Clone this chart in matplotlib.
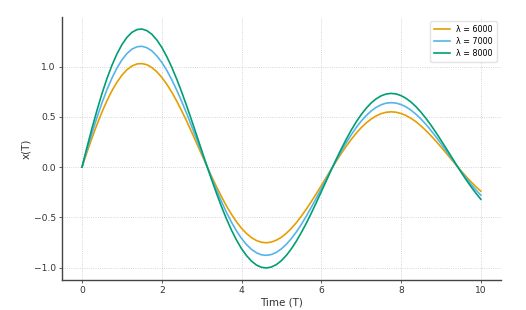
import numpy as np
import matplotlib
matplotlib.use('Agg')
import matplotlib.pyplot as plt

# values, T from 0 to 10 in steps of 0.125
t = np.linspace(0, 10, 81)
x_6000 = [0, .148, .290, .423, .547, .660, .759, .844, .914, .968,
          1.005, 1.026, 1.030, 1.019, .991, .949, .893, .825, .746, .657,
          .559, .456, .348, .237, .125, .015, -.094, -.198, -.297, -.388,
          -.471, -.545, -.609, -.661, -.702, -.731, -.748, -.753, -.746, -.727,
          -.698, -.658, -.610, -.553, -.488, -.418, -.343, -.265, -.184, -.102,
          -.021, .058, .135, .207, .275, .337, .392, .439, .478, .509,
          .532, .545, .550, .546, .533, .513, .485, .451, .410, .363,
          .312, .258, .201, .142, .083, .023, -.035, -.091, -.145, -.195,
          -.240]
x_7000 = [0, .172, .338, .494, .638, .770, .885, .984, 1.066, 1.129,
          1.173, 1.197, 1.202, 1.188, 1.157, 1.107, 1.042, .963, .870, .766,
          .653, .532, .406, .277, .146, .017, -.109, -.231, -.346, -.453,
          -.550, -.636, -.710, -.771, -.819, -.853, -.873, -.878, -.870, -.848,
          -.814, -.768, -.711, -.645, -.570, -.488, -.400, -.309, -.215, -.120,
          -.025, .068, .157, .242, .321, .393, .457, .512, .558, .594,
          .620, .636, .641, .637, .622, .599, .566, .526, .478, .424,
          .365, .301, .235, .166, .097, .027, -.041, -.106, -.169, -.227,
          -.280]
x_8000 = [0, .197, .386, .564, .730, .880, 1.012, 1.125, 1.218, 1.290,
          1.340, 1.368, 1.374, 1.358, 1.322, 1.266, 1.191, 1.100, .994, .875,
          .746, .608, .464, .316, .167, .019, -.125, -.264, -.396, -.518,
          -.629, -.727, -.812, -.881, -.936, -.975, -.997, -1.004, -.994, -.970,
          -.931, -.878, -.813, -.737, -.651, -.558, -.458, -.353, -.245, -.137,
          -.028, .078, .180, .276, .367, .449, .522, .585, .638, .679,
          .709, .727, .733, .728, .711, .684, .647, .601, .546, .484,
          .417, .344, .268, .190, .111, .031, -.047, -.122, -.193, -.259,
          -.320]
labels = ['λ = 6000', 'λ = 7000', 'λ = 8000']
colors = ['#E69F00', '#56B4E9', '#009E73']

fig = plt.figure(figsize=(5.26, 3.10), dpi=100)
ax = fig.add_axes([0.118, 0.097, 0.834, 0.848])

for ys, lab, c in zip([x_6000, x_7000, x_8000], labels, colors):
    ax.plot(t, ys, color=c, linewidth=1.2, label=lab)

ax.grid(True, linestyle=':', linewidth=0.6, color='#c8c8c8')
ax.set_axisbelow(True)
for s in ['top', 'right']:
    ax.spines[s].set_visible(False)
for s in ['left', 'bottom']:
    ax.spines[s].set_color('#444444')
    ax.spines[s].set_linewidth(1.0)
ax.tick_params(length=2.5, width=0.6, color='#444444', labelsize=6.6,
               labelcolor='#333333', pad=2)
ax.set_xlabel('Time (T)', fontsize=7.5, color='#333333', labelpad=2)
ax.set_ylabel('x(T)', fontsize=7.5, color='#333333', labelpad=2)
ax.set_xticks([0, 2, 4, 6, 8, 10])
ax.set_yticks([-1.0, -0.5, 0.0, 0.5, 1.0])

ax.legend(loc='upper right', fontsize=5.8, frameon=True, edgecolor='#dddddd',
          handlelength=2.0, handletextpad=0.8, borderpad=0.45, labelspacing=0.4)

fig.savefig('out.png', dpi=100)
